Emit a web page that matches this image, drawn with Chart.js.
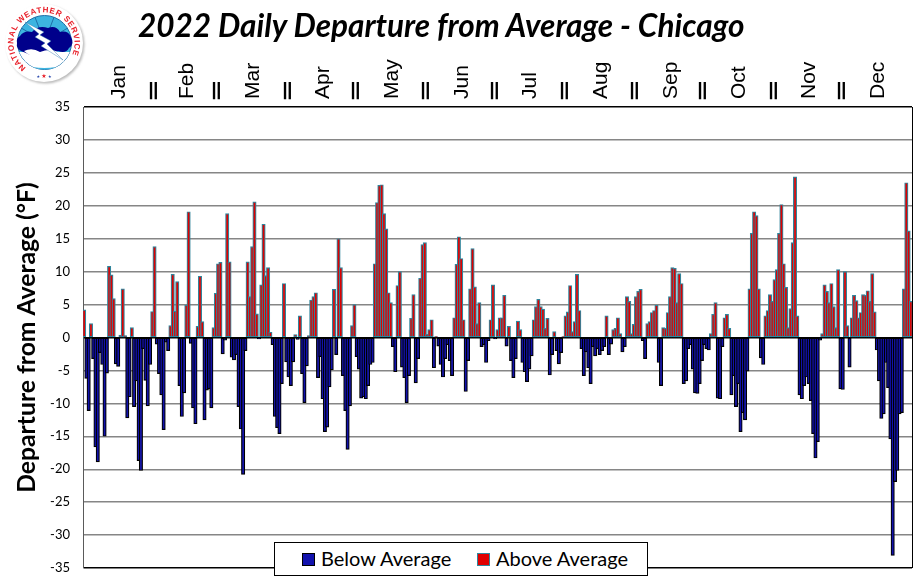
<!DOCTYPE html>
<html>
<head>
<meta charset="utf-8">
<title>2022 Daily Departure from Average - Chicago</title>
<script src="https://cdn.jsdelivr.net/npm/chart.js@4/dist/chart.umd.min.js"></script>
<style>
html, body { margin: 0; padding: 0; background: #fff; }
#wrap { position: relative; width: 924px; height: 581px; overflow: hidden; }
canvas { display: block; }
#heading { position: absolute; left: 138px; top: 6px; margin: 0; white-space: nowrap;
  font: italic bold 31.5px Lato, sans-serif; color: #000; }
#logo { position: absolute; left: 0; top: 0; }
#key { position: absolute; left: 274px; top: 542px; width: 372px; height: 32px; background: #fff;
  border: 1px solid #000; font: 20px Lato, sans-serif; color: #000; }
#key span { position: absolute; top: 3px; white-space: nowrap; }
#key i { position: absolute; top: 10px; width: 11px; height: 11px; border: 1px solid; }
</style>
</head>
<body>
<div id="wrap">
  <canvas id="dailyChart" width="924" height="581"></canvas>
  <h1 id="heading">2022 Daily Departure from Average - Chicago</h1>
  <svg id="logo" width="90" height="90" viewBox="0 0 90 90">
    <defs>
      <path id="ring" d="M 26.1 67.7 A 30.5 30.5 0 1 1 61.9 67.7"/>
      <filter id="soft"><feGaussianBlur stdDeviation="1.2"/></filter>
      <clipPath id="dial"><circle cx="44.5" cy="42.5" r="27"/></clipPath>
    </defs>
    <circle cx="45.5" cy="44.5" r="39" fill="#bbb" filter="url(#soft)"/>
    <circle cx="44" cy="43" r="39" fill="#fff"/>
    <circle cx="44.5" cy="42.5" r="27" fill="#3db4e0" stroke="#1f6fa8" stroke-width="1"/>
    <g clip-path="url(#dial)">
      <path d="M 44.5 42 L 33 12 M 44.5 42 L 56 12 M 44.5 42 L 18 26 M 44.5 42 L 71 26" stroke="#1f6fa8" stroke-width="1"/>
      <circle cx="44.5" cy="56" r="13" fill="#fff"/>
      <path d="M 16 62 Q 44 76 73 62 L 73 52 L 16 52 Z" fill="#fff"/>
      <path d="M 21 64 Q 44 72 68 64 L 68 68 Q 44 76 21 68 Z" fill="#3db4e0"/>
    </g>
    <path d="M 20 36 Q 24 30 32 32 Q 38 25 48 28 Q 56 25 60 32 Q 68 30 71 37 Q 75 44 69 48 Q 66 54 58 51 Q 50 56 42 52 Q 34 58 26 53 Q 15 50 17 43 Q 16 38 20 36 Z" fill="#00008b"/>
    <path d="M 24 51 Q 32 47 40 52 Q 50 48 58 52 Q 54 60 44 58 Q 34 60 24 51 Z" fill="#fff"/>
    <path d="M 25 22 L 44 32 L 40 35 L 51 41 L 47 44 L 63 60 L 41 46 L 45 43 L 35 37 L 39 34 Z" fill="#fff" stroke="#1f6fa8" stroke-width="0.4"/>
    <text font-family="Liberation Sans" font-weight="bold" font-size="8" fill="#e8202a" letter-spacing="0.7">
      <textPath href="#ring">NATIONAL WEATHER SERVICE</textPath>
    </text>
    <text x="44" y="78" text-anchor="middle" font-family="DejaVu Sans" font-size="6" fill="#e8202a"><tspan fill="#1f3fa8" font-size="4">★ </tspan>★<tspan fill="#1f3fa8" font-size="4"> ★</tspan></text>
  </svg>
  <div id="key"></div>
</div>
<script>
// daily departures from normal, one list per month
const janValues = [4.2,-6.2,-11.1,2.1,-3.2,-16.6,-18.9,-2.3,-4.1,-15,-5.4,10.8,9.5,5.9,-4,-4.4,0.35,7.4,0.3,-12.2,-9,1.5,-10.5,-6.6,-18.7,-20.2,-1.7,-6.5,-10.4,-4.1,3.95];
const febValues = [13.8,-1,-5.5,-8.7,-14,-0.7,-2,1.8,9.6,4,8.5,-7.3,-12,-8.4,4.9,19.1,-0.9,-10.7,-13.1,1.7,9.3,2.4,-12.5,-8,-7.8,-10.7,1.5,6.7];
const marValues = [11.2,11.4,-2.5,-0.4,18.8,11.5,-3,-3.4,-2.6,-10.5,-13.9,-20.8,-2,11.5,6.2,13.8,20.6,3.6,-0.2,8,17.2,9.4,10.6,0.8,-1.1,-12,-13.7,-14.6,-7,8.2,-3.7];
const aprValues = [-6,-7.3,-3.7,0.45,-0.3,3.3,-5.5,-9.9,-4.3,0.3,5.7,6.2,6.8,-6.1,-2.9,-9.3,-14.3,-13.6,-7.5,-4.9,7.3,-2.6,15,10.6,-5.8,-11.1,-17,-10.4,1.8,5];
const mayValues = [-2.9,-4.8,-9.2,-9,-9.3,-7.3,-4.1,-3.8,11.2,20.5,23.1,23.2,18.8,16.5,6.8,5.3,-1.4,-5.2,7.9,10,-4.5,-6.1,-9.9,-5.8,2.9,6.5,-6.9,-3.2,9,14.1,14.4];
const junValues = [0.5,1.2,2.7,-4.6,0.15,-1.3,-4.1,-6,-3.2,-1.1,-3.5,-5.8,3,11.1,15.3,12,2.7,-8.2,-3.5,7.4,13.5,7.7,2.1,5.3,-1.4,-1.1,-3.8,-0.5,2.7,8];
const julValues = [-0.2,1.2,3,3,6.4,-1.3,1.7,-3.5,-6.1,-3.2,2.5,1.2,-3.8,-5.2,-6.7,-4.8,-2.8,2.7,4.7,5.8,4.7,4.3,1.4,2.9,-5.7,-2.6,0.9,-2,-4,-2.3,0.15];
const augValues = [3.3,3.9,7.9,0.9,2.4,9.6,4.1,-1.7,-5.8,-2.2,-4.6,-7,-1.4,-2.8,-1.7,-2.6,-2,-1.4,3.3,-2.6,-1,1.2,1.4,3,0.6,-2.2,-1.4,6.2,5.5,0.6,2];
const sepValues = [6.2,7,7.3,-0.5,-3.2,2.1,2.4,3.8,4.1,4.9,-3.8,-7.3,1.5,1.4,3.8,6.2,10.6,10.5,5.3,9.7,8.2,-7,-6.6,-1.7,-1.1,-4.8,-8.4,-8.5,-7,-3.5];
const octValues = [-1.1,-1.7,-1.9,0.6,3.5,5.3,-9.2,-9.3,-1.4,3,3.5,1.4,-8.7,-5.8,-10.5,-7,-14.3,-11.4,-12.5,-5.1,7.4,15.8,19.1,18.5,7.4,-3.1,-4.1,3.3,4.1,6.5,5.5];
const novValues = [8.8,10.3,15.8,20.2,11.2,7.6,1.5,4.4,14.4,24.4,3.3,-8.7,-9.3,-7.3,-6,-7,-9.6,-14.6,-18.3,-15.8,-0.4,0.6,8,7,5.3,8.2,4.7,1.5,10.3,-7.8];
const decValues = [-7.9,10,1.8,-4.5,3,6.4,5.6,3,3.8,6.5,6.4,7.1,5.5,9.7,3.9,-1.9,-6.6,-12.3,-11.6,-3.8,-7.6,-15.4,-33.1,-21.9,-20.2,-11.6,-11.4,7.4,23.5,16.2,5.5];

const monthNames = ["Jan","Feb","Mar","Apr","May","Jun","Jul","Aug","Sep","Oct","Nov","Dec"];
const monthDivider = "═";
const seriesNames = ["Below Average", "Above Average"];
const yTicks = [35,30,25,20,15,10,5,0,-5,-10,-15,-20,-25,-30,-35];

const months = [janValues,febValues,marValues,aprValues,mayValues,junValues,julValues,augValues,sepValues,octValues,novValues,decValues];
const departures = months.flat();

// top axis: month name mid month, a divider on the first of each month
const dayLabels = [];
months.forEach((m, k) => {
    m.forEach((v, d) => {
        if (d === 0 && k > 0) dayLabels.push(monthDivider);
        else if (d === Math.floor(m.length / 2)) dayLabels.push(monthNames[k]);
        else dayLabels.push("");
    });
});

const belowColor = "#1212ad", belowEdge = "#000000";
const aboveColor = "#e00000", aboveEdge = "#31859c";

// plot frame on the right side, the other three sides come from the axes
const framePlugin = {
    id: "frame",
    afterDraw(chart) {
        const a = chart.chartArea, c = chart.ctx;
        c.save();
        c.strokeStyle = "#000";
        c.lineWidth = 1;
        c.beginPath();
        c.moveTo(a.right + 0.5, a.top);
        c.lineTo(a.right + 0.5, a.bottom);
        c.stroke();
        c.restore();
    }
};

const CHART = document.getElementById("dailyChart");
let dailyChart = new Chart(CHART, {
    type: "bar",
    data: {
        labels: dayLabels,
        datasets: [
            {
                label: seriesNames[0],
                data: departures.map(v => v < 0 ? v : null),
                backgroundColor: belowColor,
                borderColor: belowEdge,
                borderWidth: 1.2,
                borderSkipped: false,
                barThickness: 3.4,
                grouped: false
            },
            {
                label: seriesNames[1],
                data: departures.map(v => v >= 0 ? v : null),
                backgroundColor: aboveColor,
                borderColor: aboveEdge,
                borderWidth: 1.2,
                borderSkipped: false,
                barThickness: 3.4,
                grouped: false
            }
        ]
    },
    options: {
        responsive: false,
        animation: false,
        layout: { padding: { left: 12, right: 12, bottom: 13, top: 0 } },
        plugins: { legend: { display: false }, title: { display: false }, tooltip: { enabled: false } },
        scales: {
            x: {
                position: "top",
                grid: { display: false },
                border: { display: false },
                afterFit(scale) { scale.height = 107; },
                ticks: {
                    autoSkip: false,
                    minRotation: 90,
                    maxRotation: 90,
                    padding: 0,
                    labelOffset: 25,
                    color: "#000",
                    font(ctx) {
                        return dayLabels[ctx.index] === monthDivider
                            ? { family: "DejaVu Sans Mono", weight: "bold", size: 28, lineHeight: 24 / 28 }
                            : { family: "Liberation Sans", size: 21, lineHeight: 24 / 21 };
                    },
                    callback(value) { return dayLabels[value]; }
                }
            },
            y: {
                min: -35,
                max: 35,
                afterFit(scale) {
                    scale.width = 71;
                    scale.paddingTop = 0;
                    scale.paddingBottom = 0;
                },
                afterBuildTicks(scale) { scale.ticks = yTicks.map(v => ({ value: v })); },
                grid: {
                    drawTicks: false,
                    lineWidth: 1.4,
                    color(ctx) {
                        const v = ctx.tick.value;
                        return (v === 35 || v === -35 || v === 0) ? "#000" : "#868686";
                    }
                },
                border: { color: "#5a5a5a", width: 1 },
                title: {
                    display: true,
                    text: "Departure from Average (°F)",
                    color: "#000",
                    font: { family: "Lato", weight: "bold", size: 24.7 },
                    padding: 0
                },
                ticks: {
                    padding: 13,
                    color: "#000",
                    font: { family: "Lato", size: 13 }
                }
            }
        }
    },
    plugins: [framePlugin]
});

// key box under the plot, named from the chart's own datasets
const key = document.getElementById("key");
[[27, 46, belowColor, belowEdge], [202, 221, aboveColor, aboveEdge]].forEach((p, k) => {
    const swatch = document.createElement("i");
    swatch.style.left = p[0] + "px";
    swatch.style.background = p[2];
    swatch.style.borderColor = p[3];
    key.appendChild(swatch);
    const text = document.createElement("span");
    text.style.left = p[1] + "px";
    text.textContent = dailyChart.data.datasets[k].label;
    key.appendChild(text);
});
</script>
</body>
</html>
